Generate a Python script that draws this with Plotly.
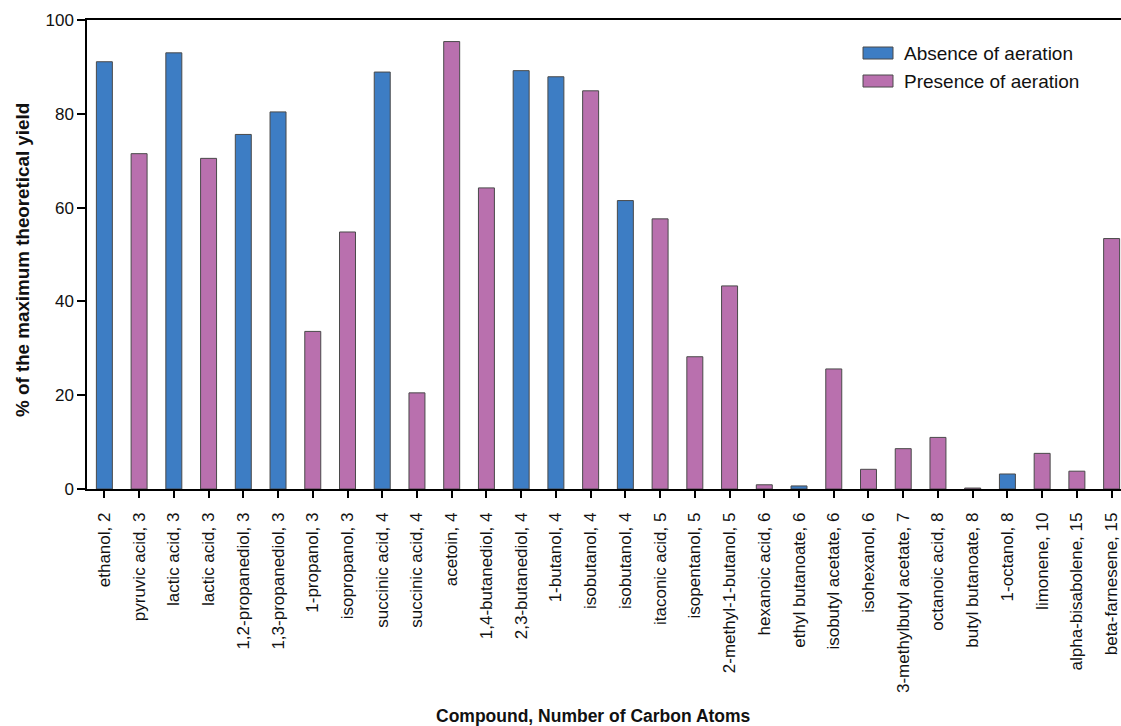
import plotly.graph_objects as go

categories = [
    "ethanol, 2", "pyruvic acid, 3", "lactic acid, 3", "lactic acid, 3 ",
    "1,2-propanediol, 3", "1,3-propanediol, 3", "1-propanol, 3", "isopropanol, 3",
    "succinic acid, 4", "succinic acid, 4 ", "acetoin, 4", "1,4-butanediol, 4",
    "2,3-butanediol, 4", "1-butanol, 4", "isobutanol, 4", "isobutanol, 4 ",
    "itaconic acid, 5", "isopentanol, 5", "2-methyl-1-butanol, 5", "hexanoic acid, 6",
    "ethyl butanoate, 6", "isobutyl acetate, 6", "isohexanol, 6", "3-methylbutyl acetate, 7",
    "octanoic acid, 8", "butyl butanoate, 8", "1-octanol, 8", "limonene, 10",
    "alpha-bisabolene, 15", "beta-farnesene, 15",
]

absence = [
    91.1, None, 93.0, None, 75.6, 80.4, None, None,
    88.9, None, None, None, 89.2, 87.9, None, 61.5,
    None, None, None, None, 0.65, None, None, None,
    None, None, 3.2, None, None, None,
]

presence = [
    None, 71.5, None, 70.5, None, None, 33.6, 54.8,
    None, 20.5, 95.4, 64.2, None, None, 84.9, None,
    57.6, 28.2, 43.3, 0.9, None, 25.6, 4.2, 8.6,
    11.0, 0.2, None, 7.6, 3.8, 53.4,
]

series_names = ["Absence of aeration", "Presence of aeration"]
colors = ["#3d7dc4", "#b970ae"]
outline = "#4a4a4a"
font_family = "Liberation Sans, Arial, Helvetica, sans-serif"

x_idx = list(range(len(categories)))

fig = go.Figure()
for name, vals, col in zip(series_names, [absence, presence], colors):
    fig.add_trace(go.Bar(
        x=x_idx, y=vals, name=name, width=0.46,
        marker=dict(color=col, line=dict(color=outline, width=1)),
    ))

fig.update_layout(
    width=1121, height=726,
    margin=dict(l=87, r=0, t=20, b=237, autoexpand=False),
    barmode="overlay",
    plot_bgcolor="white", paper_bgcolor="white",
    font=dict(family=font_family, size=17, color="#111111"),
    showlegend=False,
)

fig.update_xaxes(
    tickmode="array", tickvals=x_idx, ticktext=[c.strip() for c in categories],
    range=[-0.5, 29.27], tickangle=-90,
    showline=True, linecolor="black", linewidth=1.5, mirror=True,
    ticks="outside", ticklen=7, tickwidth=1.5, tickcolor="black",
    tickfont=dict(size=17, family=font_family), ticklabelstandoff=8,
    ticklabeloverflow="allow",
    showgrid=False, zeroline=False,
)
fig.update_yaxes(
    range=[0, 100], tickvals=[0, 20, 40, 60, 80, 100],
    showline=True, linecolor="black", linewidth=1.5,
    ticks="outside", ticklen=8, tickwidth=1.5, tickcolor="black",
    tickfont=dict(size=17, family=font_family),
    showgrid=False, zeroline=False,
)

# legend (swatch + label), placed in the upper right of the plot area
legend_rows = [(0.9424, 0.9168, 0.9296), (0.8827, 0.8571, 0.8699)]
for (y_top, y_bot, y_mid), name, col in zip(legend_rows, series_names, colors):
    fig.add_shape(
        type="rect", xref="paper", yref="paper",
        x0=0.7505, x1=0.7795, y0=y_bot, y1=y_top,
        fillcolor=col, line=dict(color=outline, width=1),
    )
    fig.add_annotation(
        text=name, xref="paper", yref="paper", x=0.7882, y=y_mid,
        xanchor="left", yanchor="middle", showarrow=False,
        font=dict(size=19, family=font_family, color="#111111"),
    )

fig.add_annotation(
    text="<b>Compound, Number of Carbon Atoms</b>", xref="paper", yref="paper",
    x=0.49, y=-0.484, xanchor="center", yanchor="middle", showarrow=False,
    font=dict(size=17.5, family=font_family, color="#111111"),
)
fig.add_annotation(
    text="<b>% of the maximum theoretical yield</b>", xref="paper", yref="paper",
    x=-0.063, y=0.488, xanchor="center", yanchor="middle", showarrow=False, textangle=-90,
    font=dict(size=18.8, family=font_family, color="#111111"),
)

fig.write_html(
    "out.html",
    config={"displayModeBar": False},
    post_script="document.body.style.margin='0';document.body.style.overflow='hidden';",
)
